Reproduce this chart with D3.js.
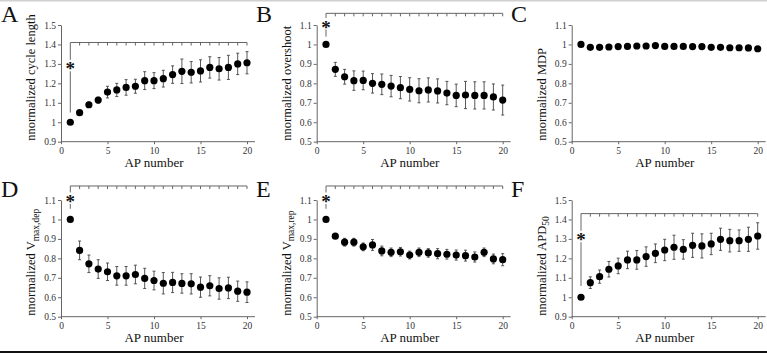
<!DOCTYPE html>
<html>
<head>
<meta charset="utf-8">
<script src="https://cdn.jsdelivr.net/npm/d3@7"></script>
<style>
  body { margin: 0; background: #fff; }
  svg { display: block; font-family: "Liberation Serif", "DejaVu Serif", serif; }
</style>
</head>
<body>
<div id="fig"></div>
<script>
// AP numbers (x categories)
var apNumber = [1,2,3,4,5,6,7,8,9,10,11,12,13,14,15,16,17,18,19,20];
var xTickValues = [0, 5, 10, 15, 20];

// A - cycle length
var cycleMean = [1.0,1.049,1.09,1.114,1.155,1.166,1.179,1.185,1.214,1.214,1.224,1.245,1.262,1.257,1.264,1.282,1.275,1.282,1.30,1.306];
var cycleErr  = [0,0.012,0.014,0.015,0.03,0.034,0.04,0.036,0.046,0.041,0.043,0.045,0.063,0.055,0.057,0.055,0.058,0.062,0.055,0.057];
// B - overshoot
var overshootMean = [1.0,0.872,0.834,0.814,0.815,0.80,0.795,0.786,0.778,0.769,0.762,0.766,0.761,0.75,0.738,0.74,0.738,0.738,0.73,0.714];
var overshootErr  = [0,0.036,0.038,0.05,0.048,0.05,0.053,0.055,0.057,0.06,0.062,0.062,0.062,0.06,0.058,0.07,0.07,0.07,0.067,0.077];
// C - MDP
var mdpMean = [1.0,0.985,0.985,0.987,0.989,0.99,0.992,0.992,0.994,0.99,0.99,0.99,0.989,0.989,0.985,0.985,0.983,0.983,0.982,0.978];
var mdpErr  = [0,0.003,0.003,0.003,0.003,0.003,0.003,0.003,0.003,0.003,0.003,0.003,0.003,0.003,0.003,0.003,0.003,0.003,0.003,0.003];
// D - Vmax,dep
var vdepMean = [1.0,0.841,0.772,0.745,0.731,0.71,0.71,0.717,0.697,0.686,0.672,0.676,0.671,0.669,0.652,0.659,0.645,0.648,0.631,0.626];
var vdepErr  = [0,0.048,0.045,0.048,0.045,0.048,0.048,0.048,0.052,0.048,0.055,0.052,0.05,0.052,0.052,0.052,0.055,0.055,0.052,0.053];
// E - Vmax,rep
var vrepMean = [1.0,0.914,0.883,0.883,0.859,0.869,0.838,0.831,0.834,0.817,0.831,0.828,0.824,0.821,0.817,0.814,0.807,0.831,0.797,0.793];
var vrepErr  = [0,0.012,0.02,0.02,0.02,0.028,0.025,0.022,0.022,0.02,0.022,0.022,0.026,0.025,0.026,0.028,0.026,0.022,0.025,0.031];
// F - APD50
var apdMean = [1.0,1.075,1.106,1.144,1.161,1.192,1.192,1.209,1.226,1.243,1.257,1.246,1.267,1.264,1.274,1.298,1.291,1.291,1.298,1.315];
var apdErr  = [0,0.03,0.034,0.04,0.04,0.045,0.048,0.05,0.048,0.055,0.062,0.05,0.062,0.062,0.055,0.057,0.058,0.055,0.062,0.068];

// y tick values
var ticksLong  = [0.9,1.0,1.1,1.2,1.3,1.4,1.5];
var ticksShort = [0.5,0.6,0.7,0.8,0.9,1.0,1.1];

// significance bracket levels (bar, star, end of line under star)
var sigA = [1.41, 1.29, 1.05];
var sigB = [1.16, 1.105, 1.04];
var sigD = [1.172, 1.108, 1.055];
var sigE = [1.172, 1.108, 1.055];
var sigF = [1.43, 1.311, 1.058];

var W = 767, H = 353;
var colX = [61, 316.7, 571.7];   // y axis position per column
var colLeft = [0, 255, 510];
var rowTop = [25, 200];
var plotH = 116.7, plotW = 186;

var svg = d3.select("#fig").append("svg")
    .attr("width", W).attr("height", H);

// frame lines
svg.append("rect").attr("x", 0).attr("y", 0).attr("width", W).attr("height", 1.5).attr("fill", "#d0d0d0");
svg.append("rect").attr("x", 0).attr("y", 351).attr("width", W).attr("height", 2).attr("fill", "#111");

var panels = [
  {letter: "A", col: 0, row: 0, mean: cycleMean, err: cycleErr, ticks: ticksLong, label: "nnormalized cycle length", sub: null, sig: sigA},
  {letter: "B", col: 1, row: 0, mean: overshootMean, err: overshootErr, ticks: ticksShort, label: "nnormalized overshoot", sub: null, sig: sigB},
  {letter: "C", col: 2, row: 0, mean: mdpMean, err: mdpErr, ticks: ticksShort, label: "nnormalized MDP", sub: null, sig: null},
  {letter: "D", col: 0, row: 1, mean: vdepMean, err: vdepErr, ticks: ticksShort, label: "nnormalized V", sub: "max,dep", sig: sigD},
  {letter: "E", col: 1, row: 1, mean: vrepMean, err: vrepErr, ticks: ticksShort, label: "nnormalized V", sub: "max,rep", sig: sigE},
  {letter: "F", col: 2, row: 1, mean: apdMean, err: apdErr, ticks: ticksLong, label: "nnormalized APD", sub: "50", sig: sigF}
];

panels.forEach(drawPanel);

function drawPanel(p) {
  // panel letter
  svg.append("text")
      .attr("x", colLeft[p.col] + 1)
      .attr("y", rowTop[p.row] - 3.3)
      .attr("font-size", "24px")
      .attr("fill", "#111")
      .text(p.letter);

  var g = svg.append("g")
      .attr("transform", `translate(${colX[p.col]},${rowTop[p.row]})`);

  var x = d3.scaleLinear().domain([0, 20]).range([0, plotW]);
  var y = d3.scaleLinear()
      .domain([p.ticks[0], p.ticks[p.ticks.length - 1]])
      .range([plotH, 0]);

  // x axis
  var xg = g.append("g")
      .attr("transform", `translate(0,${plotH})`)
      .call(d3.axisBottom(x).tickValues(xTickValues).tickSize(2.5).tickPadding(3).tickSizeOuter(0));
  xg.select(".domain").remove();
  xg.append("line").attr("x1", 0).attr("x2", x(20) + 8)
      .attr("stroke", "#666").attr("stroke-width", 1);

  // y axis
  var yg = g.append("g")
      .call(d3.axisLeft(y).tickValues(p.ticks).tickFormat(d3.format("~g")).tickSize(3).tickPadding(2).tickSizeOuter(0));

  [xg, yg].forEach(function(a) {
    a.selectAll("line").attr("stroke", "#666");
    a.selectAll(".domain").attr("stroke", "#666");
    a.selectAll("text")
        .attr("font-family", "Liberation Serif")
        .attr("font-size", "9.5px")
        .attr("fill", "#333");
  });

  // axis titles
  g.append("text")
      .attr("x", x(20) / 2)
      .attr("y", plotH + 25)
      .attr("text-anchor", "middle")
      .attr("font-size", "13px")
      .attr("fill", "#111")
      .text("AP number");

  var yl = g.append("text")
      .attr("transform", `translate(-26,${plotH - 1}) rotate(-90)`)
      .attr("text-anchor", "start")
      .attr("font-size", "12.5px")
      .attr("fill", "#111")
      .text(p.label);
  if (p.sub) {
    yl.append("tspan").attr("dy", 3.5).attr("font-size", "9.5px").text(p.sub);
  }

  // significance bracket
  if (p.sig) {
    var bar = y(p.sig[0]), star = y(p.sig[1]), end = y(p.sig[2]);
    var bk = g.append("g").attr("stroke", "#666").attr("stroke-width", 1).attr("fill", "none");
    bk.append("line").attr("x1", x(1)).attr("x2", x(20)).attr("y1", bar).attr("y2", bar);
    bk.selectAll(".tk").data(apNumber.slice(1)).enter().append("line")
        .attr("x1", d => x(d)).attr("x2", d => x(d))
        .attr("y1", bar).attr("y2", bar + 3);
    bk.append("line").attr("x1", x(1)).attr("x2", x(1)).attr("y1", bar).attr("y2", Math.max(bar + 3, star - 6));
    bk.append("line").attr("x1", x(1)).attr("x2", x(1)).attr("y1", star + 5.5).attr("y2", end);
    g.append("text")
        .attr("x", x(1))
        .attr("y", star)
        .attr("dy", "0.5em")
        .attr("text-anchor", "middle")
        .attr("font-size", "19px")
        .attr("font-weight", "bold")
        .attr("fill", "#111")
        .text("*");
  }

  // error bars
  var eb = g.append("g").attr("stroke", "#444").attr("stroke-width", 0.9);
  eb.selectAll(".eb").data(apNumber).enter().append("line")
      .attr("x1", d => x(d)).attr("x2", d => x(d))
      .attr("y1", (d, i) => y(p.mean[i] - p.err[i]))
      .attr("y2", (d, i) => y(p.mean[i] + p.err[i]));
  eb.selectAll(".cap").data(apNumber).enter().append("line")
      .attr("x1", d => x(d) - 1.5).attr("x2", d => x(d) + 1.5)
      .attr("y1", (d, i) => y(p.mean[i] + p.err[i]))
      .attr("y2", (d, i) => y(p.mean[i] + p.err[i]));
  eb.selectAll(".capl").data(apNumber).enter().append("line")
      .attr("x1", d => x(d) - 1.5).attr("x2", d => x(d) + 1.5)
      .attr("y1", (d, i) => y(p.mean[i] - p.err[i]))
      .attr("y2", (d, i) => y(p.mean[i] - p.err[i]));

  // points
  g.selectAll(".pt").data(apNumber).enter().append("circle")
      .attr("cx", d => x(d))
      .attr("cy", (d, i) => y(p.mean[i]))
      .attr("r", 3.6)
      .attr("fill", "#000");
}
</script>
</body>
</html>
